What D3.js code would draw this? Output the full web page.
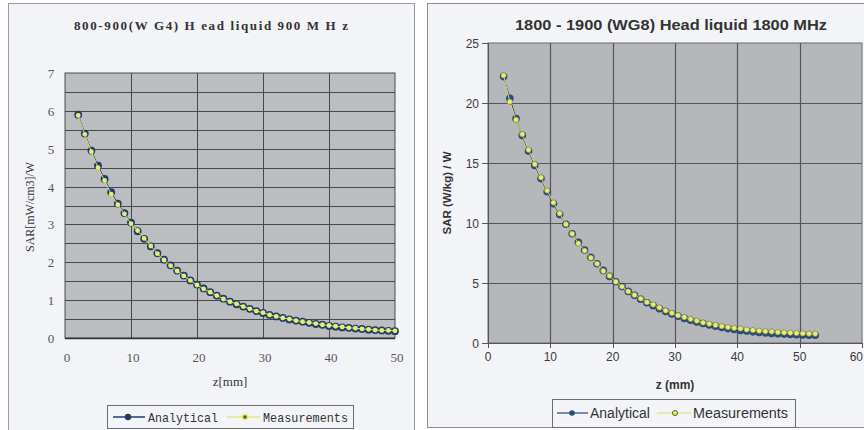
<!DOCTYPE html>
<html><head><meta charset="utf-8">
<script src="https://cdn.jsdelivr.net/npm/d3@7"></script>
<style>body{margin:0;background:#fff}svg{display:block}</style>
</head><body>
<svg id="c" width="864" height="430"></svg>
<script>
// ---- Left chart data (800-900 MHz) ----
const zLeft = [2,3,4,5,6,7,8,9,10,11,12,13,14,15,16,17,18,19,20,21,22,23,24,25,26,27,28,29,30,31,32,33,34,35,36,37,38,39,40,41,42,43,44,45,46,47,48,49,50];
const analyticalLeft = [5.9,5.4,4.95,4.55,4.2,3.85,3.55,3.3,3.05,2.82,2.62,2.42,2.24,2.07,1.92,1.78,1.65,1.52,1.41,1.31,1.21,1.12,1.04,0.96,0.89,0.83,0.77,0.71,0.66,0.61,0.57,0.53,0.49,0.46,0.43,0.4,0.37,0.35,0.32,0.3,0.28,0.27,0.25,0.24,0.22,0.21,0.2,0.19,0.18];
const measuredLeft = [5.88,5.38,4.92,4.5,4.16,3.8,3.52,3.28,3.02,2.84,2.63,2.43,2.23,2.06,1.91,1.77,1.64,1.52,1.4,1.3,1.21,1.12,1.03,0.96,0.9,0.83,0.77,0.71,0.67,0.61,0.57,0.53,0.5,0.46,0.43,0.41,0.38,0.35,0.33,0.31,0.29,0.27,0.26,0.24,0.23,0.21,0.2,0.2,0.19];
const xTicksLeft = [0,10,20,30,40,50];
const yTicksLeft = [0,1,2,3,4,5,6,7];

// ---- Right chart data (1800-1900 MHz) ----
const zRight = [2.5,3.5,4.5,5.5,6.5,7.5,8.5,9.5,10.5,11.5,12.5,13.5,14.5,15.5,16.5,17.5,18.5,19.5,20.5,21.5,22.5,23.5,24.5,25.5,26.5,27.5,28.5,29.5,30.5,31.5,32.5,33.5,34.5,35.5,36.5,37.5,38.5,39.5,40.5,41.5,42.5,43.5,44.5,45.5,46.5,47.5,48.5,49.5,50.5,51.5,52.5];
const analyticalRight = [22.2,20.4,18.7,17.3,16.0,14.8,13.7,12.6,11.6,10.7,9.9,9.1,8.4,7.75,7.15,6.6,6.05,5.55,5.1,4.7,4.3,3.97,3.65,3.36,3.1,2.85,2.62,2.42,2.23,2.05,1.9,1.75,1.62,1.5,1.39,1.29,1.2,1.12,1.05,0.99,0.93,0.88,0.84,0.8,0.77,0.74,0.71,0.69,0.67,0.65,0.64];
const measuredRight = [22.3,20.1,18.6,17.4,16.1,14.9,13.8,12.7,11.7,10.8,9.9,9.1,8.3,7.7,7.1,6.6,6.0,5.6,5.1,4.7,4.3,4.0,3.7,3.4,3.2,2.95,2.7,2.5,2.3,2.15,2.0,1.85,1.7,1.6,1.5,1.4,1.32,1.25,1.2,1.12,1.07,1.02,0.97,0.95,0.9,0.87,0.85,0.82,0.8,0.78,0.77];
const xTicksRight = [0,10,20,30,40,50,60];
const yTicksRight = [0,5,10,15,20,25];

const svg = d3.select("#c");

// panel backgrounds
svg.append("rect").attr("x",8.5).attr("y",3.5).attr("width",406).attr("height",440)
  .attr("fill","#f3f4f8").attr("stroke","#9a9ca3").attr("stroke-width",1);
svg.append("rect").attr("x",427.5).attr("y",3.5).attr("width",450).attr("height",424)
  .attr("fill","#f3f4f8").attr("stroke","#8a8c93").attr("stroke-width",1);

const ACOL = "#1f3d6b", MCOL = "#e6ee72";

// ================= LEFT =================
(function(){
  const x = d3.scaleLinear().domain([0,50]).range([65,395]);
  const y = d3.scaleLinear().domain([0,7]).range([338,73]);
  const g = svg.append("g");
  g.append("rect").attr("x",x(0)).attr("y",y(7)).attr("width",x(50)-x(0)).attr("height",y(0)-y(7))
    .attr("fill","#bcbdc0").attr("stroke","#4a4a4a").attr("stroke-width",1);
  const hg = d3.range(0.5,7,0.5);
  g.selectAll(".hg").data(hg).join("line").attr("x1",x(0)).attr("x2",x(50))
    .attr("y1",d=>Math.round(y(d))+0.5).attr("y2",d=>Math.round(y(d))+0.5).attr("stroke","#46484e").attr("stroke-width",1);
  g.selectAll(".vg").data([10,20,30,40]).join("line").attr("y1",y(0)).attr("y2",y(7))
    .attr("x1",d=>Math.round(x(d))+0.5).attr("x2",d=>Math.round(x(d))+0.5).attr("stroke","#46484e").attr("stroke-width",1);
  g.append("line").attr("x1",x(0)).attr("x2",x(50)).attr("y1",y(0)+0.5).attr("y2",y(0)+0.5).attr("stroke","#333").attr("stroke-width",1.5);

  const fontS = "'Liberation Serif','DejaVu Serif',serif";
  g.selectAll(".xt").data(xTicksLeft).join("text").attr("x",d=>x(d)+2).attr("y",362)
    .attr("text-anchor","middle").attr("font-family",fontS).attr("font-size",13).attr("fill","#555").text(d=>d);
  g.selectAll(".yt").data(yTicksLeft).join("text").attr("x",51).attr("y",d=>y(d)+5)
    .attr("text-anchor","middle").attr("font-family",fontS).attr("font-size",13).attr("fill","#555").text(d=>d);
  g.append("text").attr("x",230).attr("y",386).attr("text-anchor","middle").attr("font-family",fontS)
    .attr("font-size",13).attr("fill","#333").text("z[mm]");
  g.append("text").attr("transform","translate(34,207) rotate(-90)").attr("text-anchor","middle")
    .attr("font-family",fontS).attr("font-size",12).attr("fill","#333")
    .attr("textLength",90).attr("lengthAdjust","spacingAndGlyphs").text("SAR[mW/cm3]/W");
  g.append("text").attr("x",211).attr("y",30).attr("text-anchor","middle").attr("font-family",fontS)
    .attr("font-size",13).attr("font-weight","bold").attr("fill","#333")
    .attr("textLength",274).attr("lengthAdjust","spacing").text("800-900(W G4) H ead liquid 900 M H z");

  const la = d3.line().x((d,i)=>x(zLeft[i])).y(d=>y(d));
  g.append("path").attr("d",la(analyticalLeft)).attr("fill","none").attr("stroke",ACOL).attr("stroke-width",1);
  g.selectAll(".am").data(analyticalLeft).join("circle").attr("cx",(d,i)=>x(zLeft[i])).attr("cy",d=>y(d))
    .attr("r",3.9).attr("fill",ACOL);
  g.append("path").attr("d",la(measuredLeft)).attr("fill","none").attr("stroke","#d8d870").attr("stroke-width",1);
  g.selectAll(".mm").data(measuredLeft).join("circle").attr("cx",(d,i)=>x(zLeft[i])).attr("cy",d=>y(d))
    .attr("r",2.4).attr("fill",MCOL);

  // legend
  g.append("rect").attr("x",107.5).attr("y",405.5).attr("width",246).attr("height",23)
    .attr("fill","#f3f4f8").attr("stroke","#6b6d73").attr("stroke-width",1);
  const fontM = "'Liberation Mono','DejaVu Sans Mono',monospace";
  g.append("line").attr("x1",113).attr("x2",145).attr("y1",417).attr("y2",417).attr("stroke",ACOL).attr("stroke-width",1.5);
  g.append("circle").attr("cx",128).attr("cy",417).attr("r",3.2).attr("fill",ACOL);
  g.append("text").attr("x",148).attr("y",422).attr("font-family",fontM).attr("font-size",13)
    .attr("fill","#333").attr("textLength",70).attr("lengthAdjust","spacingAndGlyphs").text("Analytical");
  g.append("line").attr("x1",227).attr("x2",260).attr("y1",417).attr("y2",417).attr("stroke","#e2e690").attr("stroke-width",1.5);
  g.append("circle").attr("cx",245).attr("cy",417).attr("r",2.6).attr("fill","#55602a").attr("stroke",MCOL).attr("stroke-width",1.5);
  g.append("text").attr("x",263).attr("y",422).attr("font-family",fontM).attr("font-size",13)
    .attr("fill","#333").attr("textLength",85).attr("lengthAdjust","spacingAndGlyphs").text("Measurements");
})();

// ================= RIGHT =================
(function(){
  const x = d3.scaleLinear().domain([0,60]).range([488,862]);
  const y = d3.scaleLinear().domain([0,25]).range([343,43]);
  const g = svg.append("g");
  g.append("rect").attr("x",x(0)).attr("y",y(25)).attr("width",x(60)-x(0)).attr("height",y(0)-y(25))
    .attr("fill","#b6b7ba").attr("stroke","#6a6b70").attr("stroke-width",1);
  g.selectAll(".hg").data([5,10,15,20]).join("line").attr("x1",x(0)).attr("x2",x(60))
    .attr("y1",d=>Math.round(y(d))+0.5).attr("y2",d=>Math.round(y(d))+0.5).attr("stroke","#55565b").attr("stroke-width",1.2);
  g.selectAll(".vg").data([10,20,30,40,50]).join("line").attr("y1",y(0)).attr("y2",y(25))
    .attr("x1",d=>Math.round(x(d))+0.5).attr("x2",d=>Math.round(x(d))+0.5).attr("stroke","#55565b").attr("stroke-width",1.2);
  // axes
  g.append("line").attr("x1",x(0)+0.5).attr("x2",x(0)+0.5).attr("y1",y(25)).attr("y2",y(0)).attr("stroke","#555").attr("stroke-width",1);
  g.append("line").attr("x1",x(0)).attr("x2",x(60)).attr("y1",y(0)+0.5).attr("y2",y(0)+0.5).attr("stroke","#555").attr("stroke-width",1);
  g.selectAll(".yk").data(yTicksRight).join("line").attr("x1",x(0)-6).attr("x2",x(0))
    .attr("y1",d=>Math.round(y(d))+0.5).attr("y2",d=>Math.round(y(d))+0.5).attr("stroke","#555");
  g.selectAll(".xk").data(xTicksRight).join("line").attr("y1",y(0)).attr("y2",y(0)+5)
    .attr("x1",d=>Math.round(x(d))+0.5).attr("x2",d=>Math.round(x(d))+0.5).attr("stroke","#555");
  const fontA = "'Liberation Sans',Arial,sans-serif";
  g.selectAll(".xt").data(xTicksRight).join("text").attr("x",d=>d===60?863:x(d)).attr("y",361)
    .attr("text-anchor",d=>d===60?"end":"middle").attr("font-family",fontA).attr("font-size",12).attr("fill","#3a3a3a").text(d=>d);
  g.selectAll(".yt").data(yTicksRight).join("text").attr("x",479).attr("y",d=>y(d)+4.5)
    .attr("text-anchor","end").attr("font-family",fontA).attr("font-size",12).attr("fill","#3a3a3a").text(d=>d);
  g.append("text").attr("x",675).attr("y",389).attr("text-anchor","middle").attr("font-family",fontA)
    .attr("font-size",12).attr("font-weight","bold").attr("fill","#333").text("z (mm)");
  g.append("text").attr("transform","translate(451,193) rotate(-90)").attr("text-anchor","middle")
    .attr("font-family",fontA).attr("font-size",11.5).attr("font-weight","bold").attr("fill","#333").text("SAR (W/kg) / W");
  g.append("text").attr("x",671).attr("y",30).attr("text-anchor","middle").attr("font-family",fontA)
    .attr("font-size",14.5).attr("font-weight","bold").attr("fill","#333")
    .attr("textLength",312).attr("lengthAdjust","spacingAndGlyphs").text("1800 - 1900 (WG8) Head liquid 1800 MHz");

  const la = d3.line().x((d,i)=>x(zRight[i])).y(d=>y(d));
  g.append("path").attr("d",la(analyticalRight)).attr("fill","none").attr("stroke",ACOL).attr("stroke-width",1);
  g.selectAll(".am").data(analyticalRight).join("circle").attr("cx",(d,i)=>x(zRight[i])).attr("cy",d=>y(d))
    .attr("r",3.8).attr("fill","#2a4a78");
  g.append("path").attr("d",la(measuredRight)).attr("fill","none").attr("stroke","#d8d870").attr("stroke-width",1);
  g.selectAll(".mm").data(measuredRight).join("circle").attr("cx",(d,i)=>x(zRight[i])).attr("cy",d=>y(d))
    .attr("r",2.7).attr("fill",MCOL).attr("stroke","#6f7040").attr("stroke-width",0.6);

  // legend
  g.append("rect").attr("x",552.5).attr("y",399.5).attr("width",243).attr("height",28)
    .attr("fill","#f3f4f8").attr("stroke","#6b6d73").attr("stroke-width",1);
  g.append("line").attr("x1",557).attr("x2",588).attr("y1",413).attr("y2",413).attr("stroke","#4a6a90").attr("stroke-width",1.5);
  g.append("circle").attr("cx",572).attr("cy",413).attr("r",2.8).attr("fill","#2a4a78");
  g.append("text").attr("x",590).attr("y",418).attr("font-family",fontA).attr("font-size",14)
    .attr("fill","#333").text("Analytical");
  g.append("line").attr("x1",657).attr("x2",691).attr("y1",413).attr("y2",413).attr("stroke","#e2e690").attr("stroke-width",1.5);
  g.append("circle").attr("cx",675).attr("cy",413).attr("r",2.5).attr("fill",MCOL).attr("stroke","#55602a").attr("stroke-width",1);
  g.append("text").attr("x",693).attr("y",418).attr("font-family",fontA).attr("font-size",14)
    .attr("fill","#333").attr("textLength",95).attr("lengthAdjust","spacingAndGlyphs").text("Measurements");
})();
</script>
</body></html>
